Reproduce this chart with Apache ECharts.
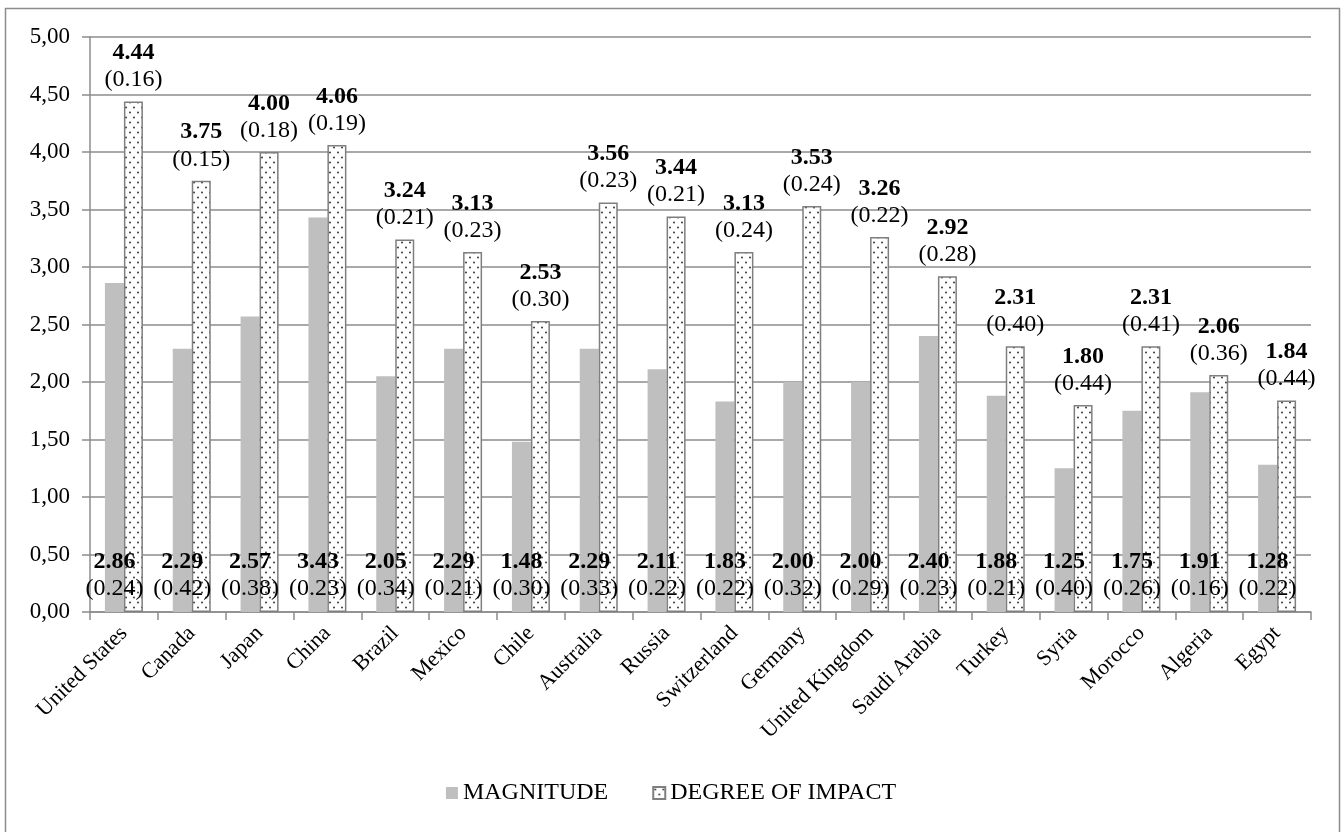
<!DOCTYPE html>
<html>
<head>
<meta charset="utf-8">
<script src="https://cdn.jsdelivr.net/npm/echarts@6/dist/echarts.min.js"></script>
<style>
  html, body { margin: 0; padding: 0; background: #fff; }
  #chart { width: 1342px; height: 832px; }
</style>
</head>
<body>
<div id="chart"></div>
<script>
const countries = ['United States', 'Canada', 'Japan', 'China', 'Brazil', 'Mexico', 'Chile', 'Australia', 'Russia',
  'Switzerland', 'Germany', 'United Kingdom', 'Saudi Arabia', 'Turkey', 'Syria', 'Morocco', 'Algeria', 'Egypt'];
const magnitude = [2.86, 2.29, 2.57, 3.43, 2.05, 2.29, 1.48, 2.29, 2.11, 1.83, 2.00, 2.00, 2.40, 1.88, 1.25, 1.75, 1.91, 1.28];
const magnitudeSD = [0.24, 0.42, 0.38, 0.23, 0.34, 0.21, 0.30, 0.33, 0.22, 0.22, 0.32, 0.29, 0.23, 0.21, 0.40, 0.26, 0.16, 0.22];
const impact = [4.44, 3.75, 4.00, 4.06, 3.24, 3.13, 2.53, 3.56, 3.44, 3.13, 3.53, 3.26, 2.92, 2.31, 1.80, 2.31, 2.06, 1.84];
const impactSD = [0.16, 0.15, 0.18, 0.19, 0.21, 0.23, 0.30, 0.23, 0.21, 0.24, 0.24, 0.22, 0.28, 0.40, 0.44, 0.41, 0.36, 0.44];
const yTicks = [0, 0.5, 1, 1.5, 2, 2.5, 3, 3.5, 4, 4.5, 5];

const FONT = '"Liberation Serif", "Times New Roman", serif';

// Dotted fill for the impact bars
function dotPattern() {
  const c = document.createElement('canvas');
  c.width = 8; c.height = 10;
  const ctx = c.getContext('2d');
  ctx.fillStyle = '#ffffff';
  ctx.fillRect(0, 0, 8, 10);
  ctx.fillStyle = '#3a3a3a';
  [[2, 2.5], [6, 7.5]].forEach(([x, y]) => {
    ctx.beginPath();
    ctx.arc(x, y, 1.0, 0, Math.PI * 2);
    ctx.fill();
  });
  return c;
}
const dots = { image: dotPattern(), repeat: 'repeat' };

const labelRich = {
  v: { fontFamily: FONT, fontSize: 24, fontWeight: 'bold', color: '#000', lineHeight: 27 },
  s: { fontFamily: FONT, fontSize: 24, color: '#000', lineHeight: 27 }
};

function twoLine(vals, sds) {
  return p => '{v|' + vals[p.dataIndex].toFixed(2) + '}\n{s|(' + sds[p.dataIndex].toFixed(2) + ')}';
}

const chart = echarts.init(document.getElementById('chart'), null, { renderer: 'canvas' });
chart.setOption({
  animation: false,
  backgroundColor: '#ffffff',
  graphic: [{
    type: 'rect',
    shape: { x: 5.5, y: 8.5, width: 1334, height: 840 },
    style: { fill: 'none', stroke: '#8c8c8c', lineWidth: 1.5 },
    silent: true
  }],
  grid: { left: 90, right: 31, top: 37, bottom: 220, containLabel: false },
  legend: {
    bottom: 22,
    left: 'center',
    itemWidth: 12,
    itemHeight: 12,
    itemGap: 44,
    itemTextGap: 4,
    textStyle: { fontFamily: FONT, fontSize: 24, color: '#000' },
    data: [
      { name: 'MAGNITUDE', icon: 'rect' },
      { name: 'DEGREE OF IMPACT', icon: 'rect' }
    ]
  },
  xAxis: {
    type: 'category',
    data: countries,
    axisLine: { lineStyle: { color: '#8c8c8c', width: 1.5 } },
    axisTick: { show: true, length: 8, lineStyle: { color: '#8c8c8c', width: 1.5 } },
    axisLabel: { rotate: 45, interval: 0, margin: 18, fontFamily: FONT, fontSize: 22, color: '#000' }
  },
  yAxis: {
    type: 'value',
    min: 0,
    max: 5,
    interval: 0.5,
    axisLine: { show: true, lineStyle: { color: '#8c8c8c', width: 1.5 } },
    axisTick: { show: true, length: 8, lineStyle: { color: '#8c8c8c', width: 1.5 } },
    splitLine: { lineStyle: { color: '#8c8c8c', width: 1.5 } },
    axisLabel: {
      margin: 20,
      fontFamily: FONT, fontSize: 23, color: '#000',
      formatter: v => yTicks.includes(v) ? v.toFixed(2).replace('.', ',') : ''
    }
  },
  series: [
    {
      name: 'MAGNITUDE',
      type: 'bar',
      data: magnitude,
      barWidth: 19,
      barGap: '0%',
      itemStyle: { color: '#bfbfbf' },
      label: {
        show: true,
        position: 'insideBottom',
        distance: 10,
        formatter: twoLine(magnitude, magnitudeSD),
        rich: labelRich
      }
    },
    {
      name: 'DEGREE OF IMPACT',
      type: 'bar',
      data: impact,
      barWidth: 19,
      itemStyle: { color: dots, borderColor: '#7f7f7f', borderWidth: 1.5 },
      label: {
        show: true,
        position: 'top',
        distance: 8,
        formatter: twoLine(impact, impactSD),
        rich: labelRich
      }
    }
  ]
});
</script>
</body>
</html>
